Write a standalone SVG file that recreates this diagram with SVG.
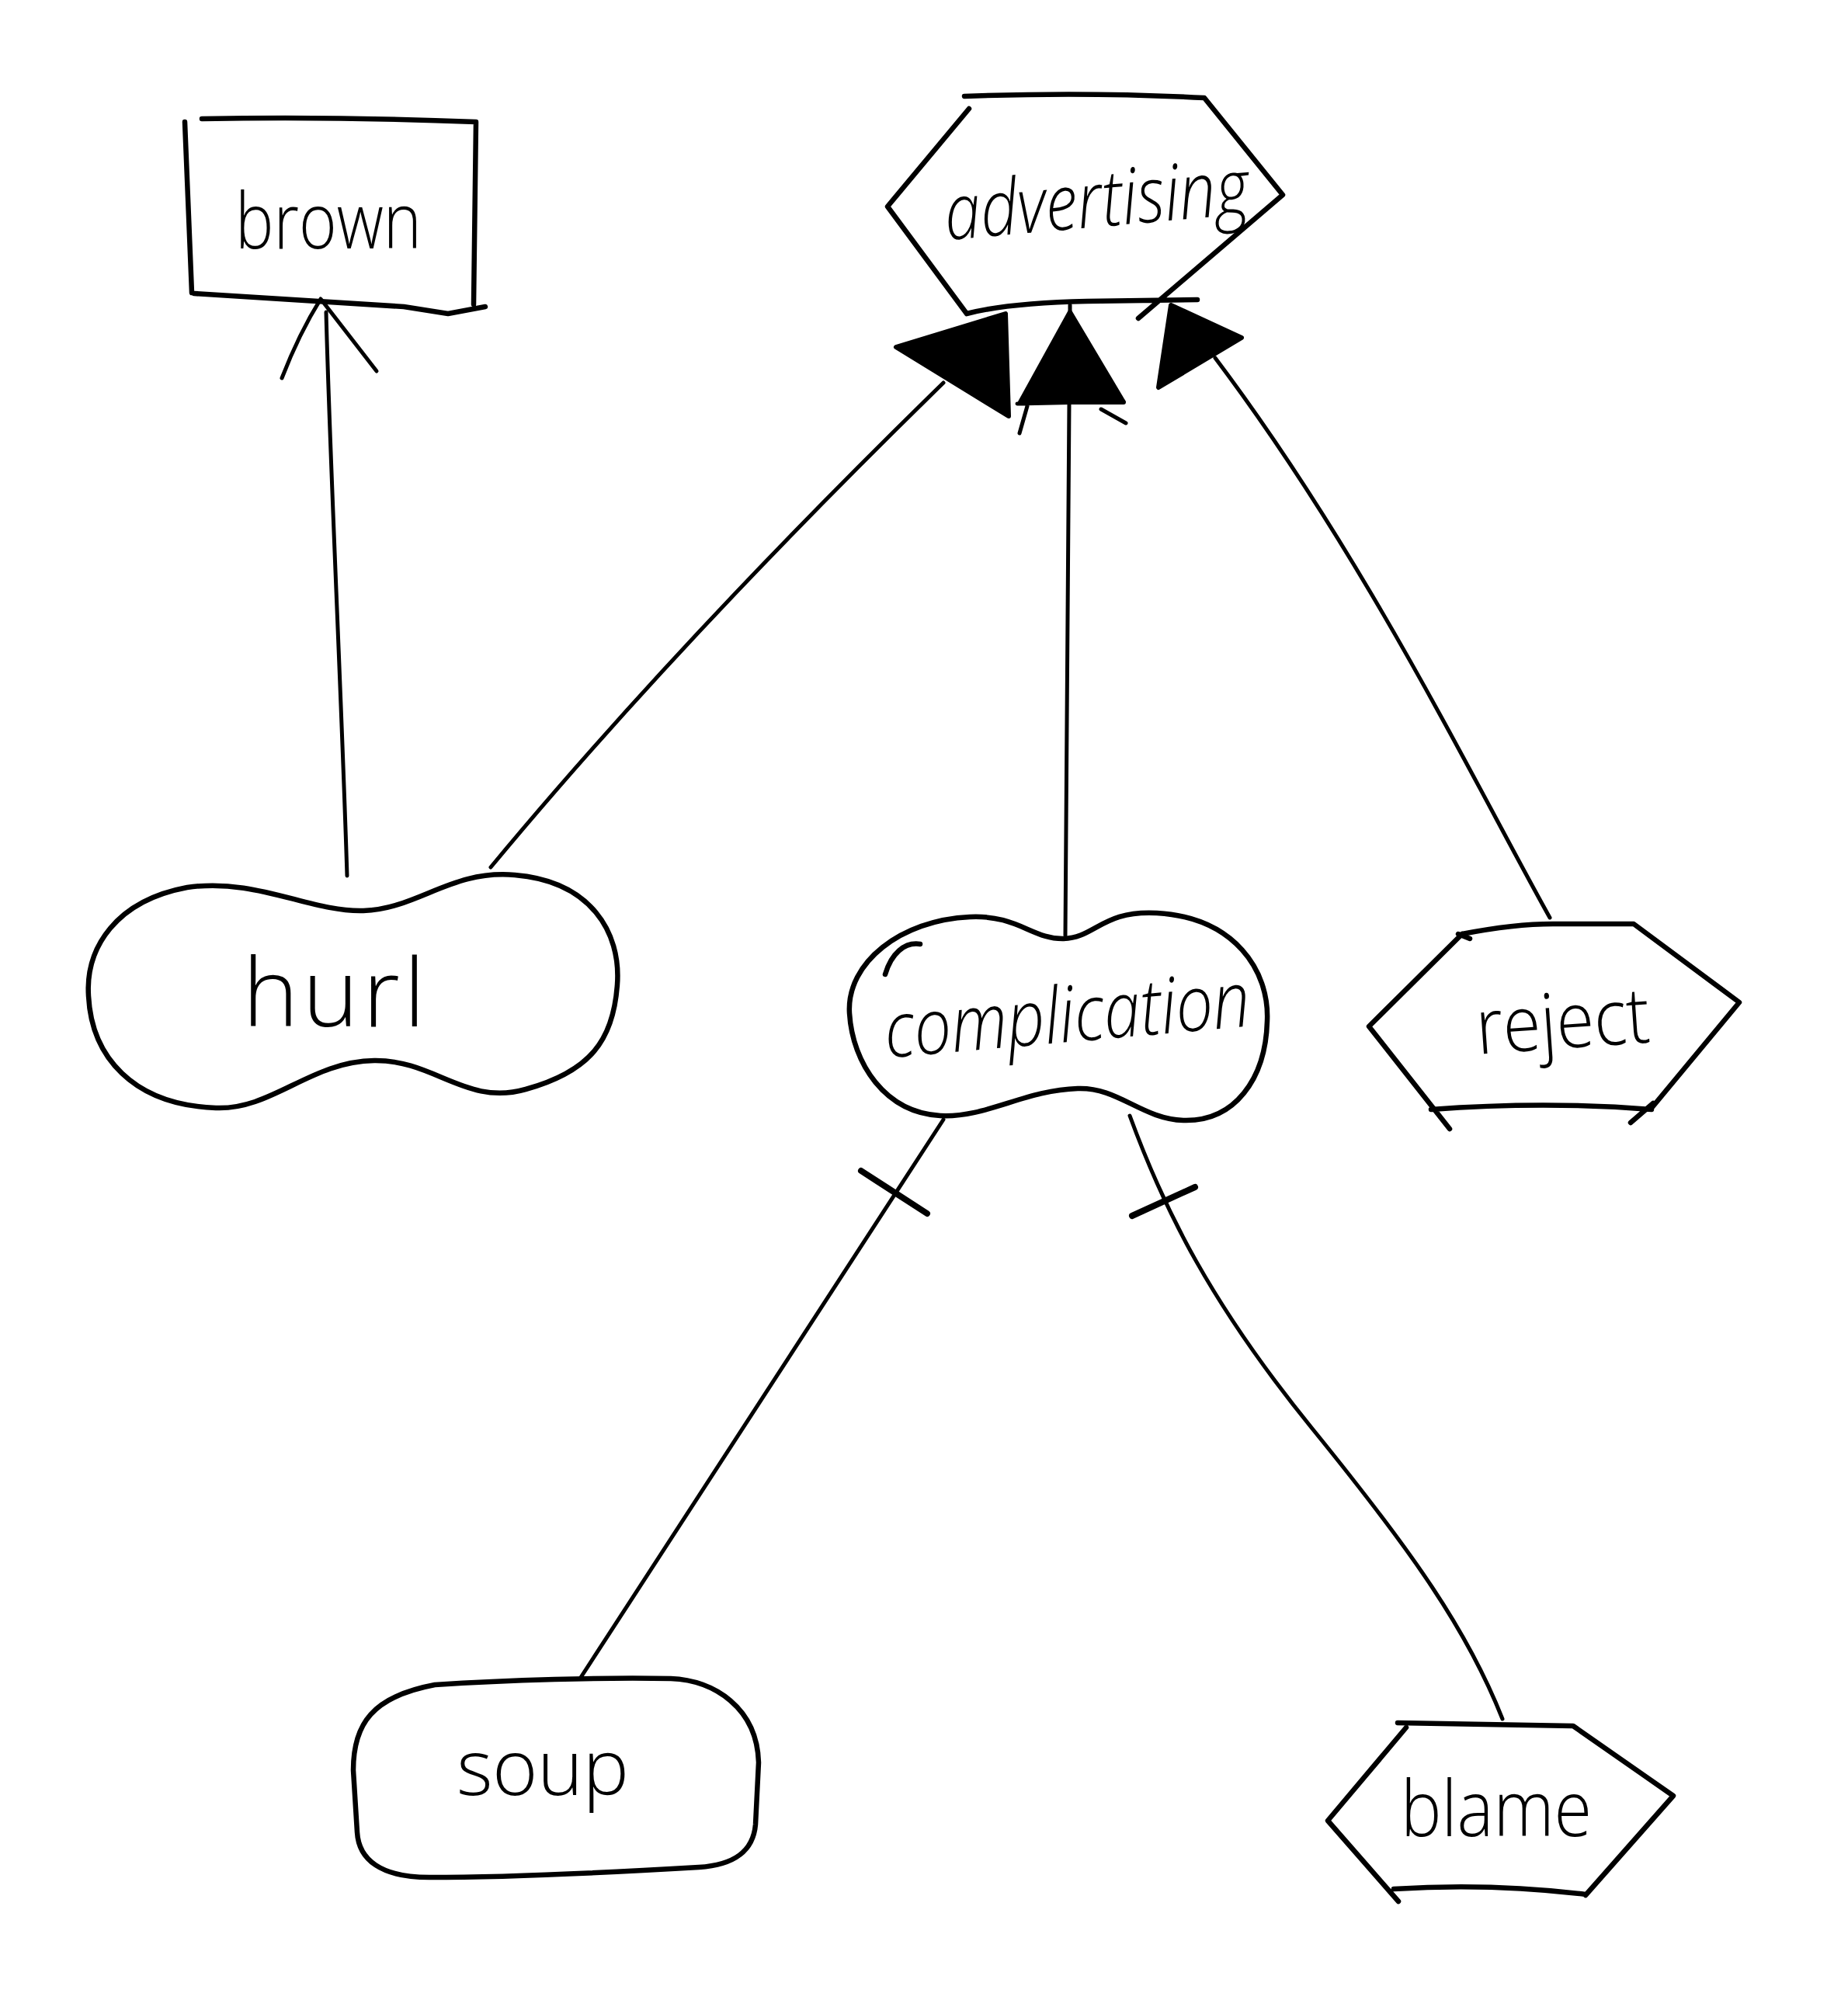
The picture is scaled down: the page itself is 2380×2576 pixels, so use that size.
<svg xmlns="http://www.w3.org/2000/svg" width="2380" height="2576" viewBox="0 0 2380 2576">
<style>
.n{fill:none;stroke:#000;stroke-width:6.5;stroke-linecap:round;stroke-linejoin:round}
.e{fill:none;stroke:#000;stroke-width:5;stroke-linecap:round;stroke-linejoin:round}
.k{fill:none;stroke:#000;stroke-width:8;stroke-linecap:round}
.h{fill:#000;stroke:#000;stroke-width:6;stroke-linejoin:round}
.t{font-family:"Open Sans","Liberation Sans",Arial,sans-serif;font-weight:300;font-size:100px;fill:#000;text-anchor:middle}
</style>
<rect width="2380" height="2576" fill="#fff"/>
<g id="connectors">
  <path class="e" d="M447,1128 C440,900 425,600 420,402"/>
  <path class="e" d="M363,487 Q385,430 413,385 L485,478"/>
  <path class="e" d="M632,1117 Q870,830 1215,493"/>
  <path class="h" d="M1154,447 L1295,404 L1299,536 Z"/>
  <path class="e" d="M1377,520 L1372,1205"/>
  <path class="h" d="M1378,402 L1314,518 L1447,518 Z"/>
  <path class="e" d="M1310,520 L1447,517 M1323,523 L1313,558 M1418,527 L1450,545 M1378,402 L1378,393"/>
  <path class="e" d="M1996,1182 C1900,1010 1760,720 1565,461"/>
  <path class="h" d="M1508,393 L1599,435 L1492,499 Z"/>
  <path class="e" d="M1215,1442 L747,2162"/>
  <path class="k" d="M1109,1508 L1194,1563"/>
  <path class="e" d="M1455,1437 C1500,1560 1560,1680 1690,1840 S1890,2100 1935,2214"/>
  <path class="k" d="M1458,1566 L1539,1529"/>
</g>
<g id="node-brown">
  <path class="n" d="M238,157 L247,377 M260,153 Q440,150 613,157 L610,392 M250,378 L520,395 L577,404 L625,395"/>
  <text class="t" x="423" y="320" textLength="240" lengthAdjust="spacingAndGlyphs">brown</text>
</g>
<g id="node-advertising">
  <path class="n" d="M1248,140 L1143,266 L1245,404 M1242,124 Q1400,118 1551,126 L1652,251 L1466,410 M1245,404 Q1300,390 1400,388 L1542,386"/>
  <text class="t" x="1415" y="292" font-style="italic" textLength="393" lengthAdjust="spacingAndGlyphs" transform="rotate(-5 1415 292)">advertising</text>
</g>
<g id="node-hurl">
  <path class="n" d="M114,1283 C110,1220 150,1160 241,1143 C330,1130 400,1175 468,1173 C540,1170 580,1120 663,1127 C760,1135 800,1200 795,1268 C790,1340 760,1380 677,1403 C600,1425 560,1365 482,1366 C400,1367 350,1430 278,1427 C170,1423 118,1360 114,1283 Z"/>
  <text class="t" x="430" y="1322" style="font-size:122px" textLength="235" lengthAdjust="spacing">hurl</text>
</g>
<g id="node-complication">
  <path class="n" d="M1094,1305 C1090,1240 1160,1185 1249,1181 C1310,1178 1330,1210 1370,1209 C1410,1208 1420,1172 1490,1176 C1590,1182 1635,1250 1632,1315 C1630,1390 1590,1445 1524,1443 C1470,1441 1440,1400 1388,1402 C1320,1404 1270,1440 1211,1437 C1140,1433 1098,1370 1094,1305 Z M1140,1255 C1148,1228 1165,1213 1185,1216"/>
  <text class="t" x="1377" y="1342" font-style="italic" textLength="472" lengthAdjust="spacingAndGlyphs" transform="rotate(-5 1377 1342)">complication</text>
</g>
<g id="node-reject">
  <path class="n" d="M1883,1203 L1763,1322 L1867,1454 M1883,1203 Q1950,1190 2000,1190 L2104,1190 L2240,1291 L2128,1426 M1843,1429 Q1990,1418 2127,1429 M2129,1421 L2100,1446 M1878,1203 L1893,1209"/>
  <text class="t" x="2015" y="1350" textLength="224" lengthAdjust="spacingAndGlyphs" transform="rotate(-4 2015 1350)">reject</text>
</g>
<g id="node-soup">
  <path class="n" d="M560,2170 C650,2164 780,2160 864,2162 C920,2164 975,2200 977,2270 L973,2350 C970,2385 945,2402 900,2405 C780,2412 650,2418 553,2418 C490,2418 462,2395 460,2360 L455,2280 C455,2220 480,2185 560,2170 Z"/>
  <text class="t" x="699" y="2312" textLength="222" lengthAdjust="spacing">soup</text>
</g>
<g id="node-blame">
  <path class="n" d="M1800,2219 L2026,2223 L2155,2313 L2042,2441 M1811,2225 L1710,2345 L1801,2449 M1795,2433 Q1920,2425 2042,2440"/>
  <text class="t" x="1927" y="2365" textLength="246" lengthAdjust="spacingAndGlyphs">blame</text>
</g>
</svg>
